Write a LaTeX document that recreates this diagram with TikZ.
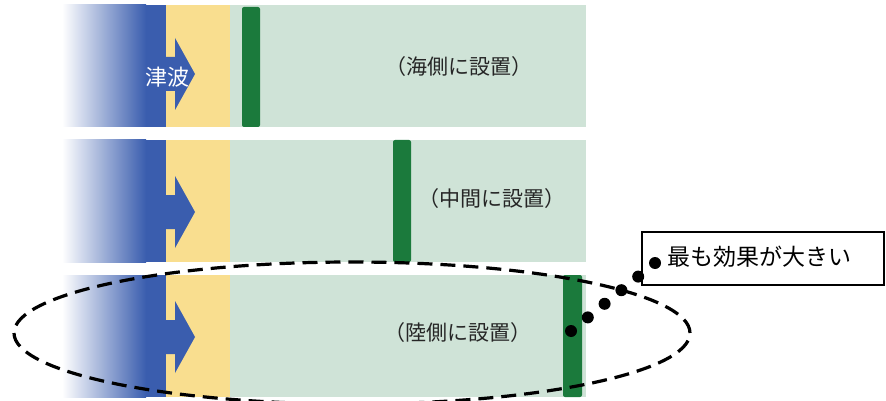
\documentclass[tikz,border=0pt]{standalone}
\usepackage{fontspec}
\newfontfamily\jp{Noto Sans CJK JP}
\usetikzlibrary{calc}
\definecolor{wave}{HTML}{3A5DAE}
\definecolor{sand}{HTML}{F9DE8F}
\definecolor{land}{HTML}{CFE3D7}
\definecolor{wall}{HTML}{1B7A3C}
\tikzset{
  wallbar/.style={fill=wall, rounded corners=2pt},
  place/.style={font=\jp\fontsize{21}{21}\selectfont, text=black!85, inner sep=0pt},
  flow/.style={fill=wave},
  ring/.style={draw=black, line width=3.2pt, dash pattern=on 15pt off 8pt},
  callout/.style={draw=black, line width=1.2pt, fill=white, minimum width=242pt,
    minimum height=53pt, inner sep=0pt},
  dot/.style={fill=black}
}
\begin{document}
\begin{tikzpicture}[x=1pt,y=-1pt]
\useasboundingbox (0,0) rectangle (886,401);
% three strips: wave, beach, land
\foreach \top/\mid in {5/74, 140/212, 275/337}{
  \pgfmathsetmacro{\bot}{\top+122}
  \shade[left color=white, right color=wave] (62,\top) rectangle (146,\bot);
  \fill[wave] (145.5,\top) rectangle (166,\bot);
  \fill[sand] (166,\top) rectangle (230,\bot);
  \fill[land] (230,\top) rectangle (586,\bot);
  % wave arrow
  \fill[flow] (165,\mid-17) -- (175,\mid-17) -- (175,\mid-36) -- (195,\mid)
     -- (175,\mid+36) -- (175,\mid+17) -- (165,\mid+17) -- cycle;
}
% walls
\fill[wallbar] (242,7) rectangle (260,127);
\fill[wallbar] (393,140) rectangle (411,262);
\fill[wallbar] (563,275) rectangle (582,397);
% labels
\node[font=\jp\fontsize{22}{22}\selectfont, text=white, inner sep=0pt] (tsunami) at (167,77) {津波};
\node[place] (sea) at (459,67) {（海側に設置）};
\node[place] (midl) at (492,199) {（中間に設置）};
\node[place] (landl) at (458,333) {（陸側に設置）};
% highlight ring round the third strip
\draw[ring] (352,333) ellipse (338pt and 71pt);
% callout
\node[callout] (note) at (763,258.5) {};
\node[font=\jp\fontsize{23}{23}\selectfont, inner sep=0pt, anchor=west] (notetext) at (667,257) {最も効果が大きい};
\coordinate (from) at (571,331);
\coordinate (to) at (655,263);
\foreach \t in {0,1,2,3,4,5}
  \fill[dot] ($(from)!\t/5!(to)$) circle (6pt);
\end{tikzpicture}
\end{document}
